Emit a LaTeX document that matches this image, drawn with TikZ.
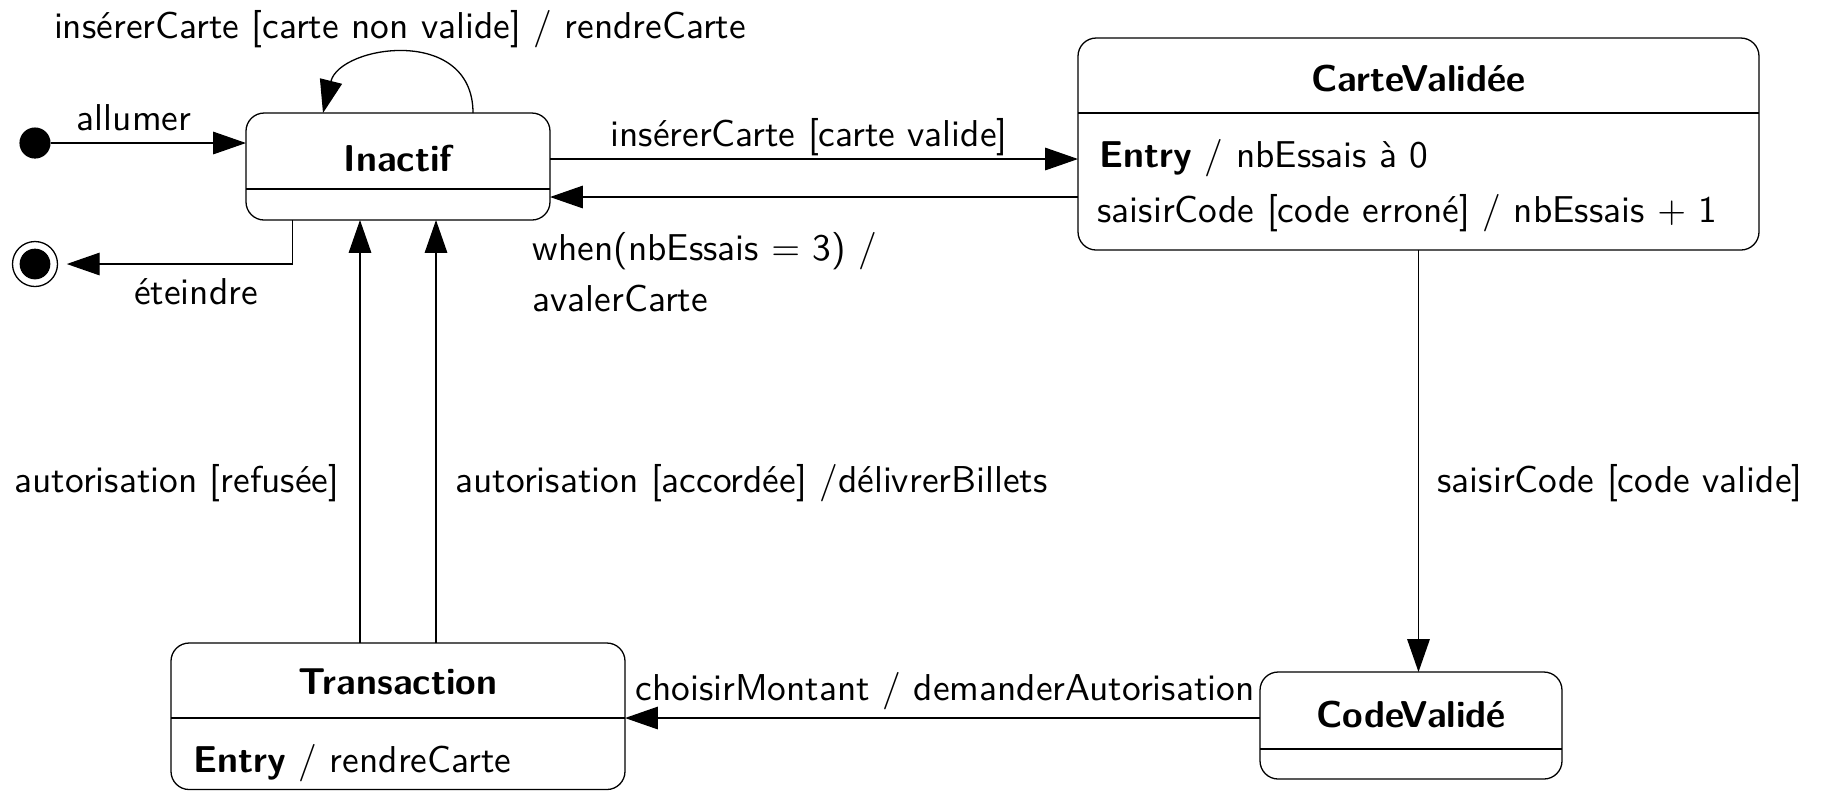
\documentclass[tikz,border=0pt]{standalone}
\usetikzlibrary{arrows.meta,calc}
\begin{document}
\begin{tikzpicture}[x=0.27pt,y=-0.27pt,font=\sffamily\fontsize{10.1}{12}\selectfont,line width=0.35pt,
  state/.style={draw,rounded corners=4.9pt,inner sep=0pt,outer sep=0pt},
  arr/.style={-{Triangle[length=8.9pt,width=6.1pt]}},
  lbl/.style={inner sep=0pt,anchor=base},
  ttl/.style={inner sep=0pt,anchor=base,font=\sffamily\bfseries\fontsize{10.1}{12}\selectfont}]
\useasboundingbox (0,0) rectangle (1822,791);
% states
\node[state,minimum width=82.08pt,minimum height=28.89pt] (inactif) at (398,166.5) {};
\node[state,minimum width=183.87pt,minimum height=57.24pt] (carte) at (1418.5,144) {};
\node[state,minimum width=122.58pt,minimum height=39.56pt] (trans) at (398,716.25) {};
\node[state,minimum width=81.54pt,minimum height=28.89pt] (codev) at (1411,725.5) {};
% dividers
\draw ($(inactif.north west)+(0,76)$) -- ($(inactif.north east)+(0,76)$);
\draw ($(carte.north west)+(0,75)$) -- ($(carte.north east)+(0,75)$);
\draw ($(trans.north west)+(0,75)$) -- ($(trans.north east)+(0,75)$);
\draw ($(codev.north west)+(0,77)$) -- ($(codev.north east)+(0,77)$);
% titles and bodies
\node[ttl] (tinactif) at (398,171) {Inactif};
\node[ttl] (tcarte) at (1418.5,91) {CarteValidée};
\node[ttl] (ttrans) at (398,694) {Transaction};
\node[ttl] (tcodev) at (1411,727) {CodeValidé};
\node[lbl,anchor=base west] (b1) at (1099,167) {\textbf{Entry} / nbEssais à 0};
\node[lbl,anchor=base west] (b2) at (1097,222) {saisirCode [code erroné] / nbEssais $+$ 1};
\node[lbl,anchor=base west] (b3) at (193,772) {\textbf{Entry} / rendreCarte};
% pseudo states
\node[circle,fill,minimum size=8.4pt,inner sep=0pt] (init) at (35,143) {};
\node[circle,draw,minimum size=12.15pt,inner sep=0pt,outer sep=2.5pt] (final) at (35,264) {};
\node[circle,fill,minimum size=8.3pt,inner sep=0pt] (finaldot) at (final.center) {};
% helper coordinates
\coordinate (p1) at ($(inactif.east)+(0,-7.5)$);
\coordinate (p2) at ($(inactif.east)+(0,30.5)$);
\coordinate (p3) at ($(codev.west)+(0,-7.5)$);
\coordinate (p4) at ($(trans.north)+(-38,0)$);
\coordinate (p5) at ($(trans.north)+(38,0)$);
\coordinate (ls) at ($(inactif.north)+(75,0)$);
\coordinate (le) at ($(inactif.north)+(-75,0)$);
\coordinate (lc1) at ($(ls)+(0,-88)$);
\coordinate (lc2) at ($(le)+(17,-68)$);
\coordinate (q1) at ($(inactif.south west)+(46.5,0)$);
% transitions
\draw[arr] (init) -- (init -| inactif.west);
\draw[arr] (q1) |- (final);
\draw[arr] (ls) .. controls (lc1) and (lc2) .. (le);
\draw[arr] (p1) -- (p1 -| carte.west);
\draw[arr] (p2 -| carte.west) -- (p2);
\draw[arr] (carte.south) -- (carte.south |- codev.north);
\draw[arr] (p3) -- (p3 -| trans.east);
\draw[arr] (p4) -- (p4 |- inactif.south);
\draw[arr] (p5) -- (p5 |- inactif.south);
% labels
\node[lbl] (l0) at (400,38) {insérerCarte [carte non valide] / rendreCarte};
\node[lbl] (l1) at (134,130) {allumer};
\node[lbl] (l2) at (196,304) {éteindre};
\node[lbl] (l3) at (809,146) {insérerCarte [carte valide]};
\node[lbl,anchor=base west] (l4) at (532,260) {when(nbEssais $=$ 3) /};
\node[lbl,anchor=base west] (l5) at (532,311) {avalerCarte};
\node[lbl,anchor=base east] (l6) at (340,492) {autorisation [refusée]};
\node[lbl,anchor=base west] (l7) at (455,492) {autorisation [accordée] /délivrerBillets};
\node[lbl,anchor=base west] (l8) at (1437,492) {saisirCode [code valide]};
\node[lbl] (l9) at (945,700) {choisirMontant / demanderAutorisation};
\end{tikzpicture}
\end{document}
